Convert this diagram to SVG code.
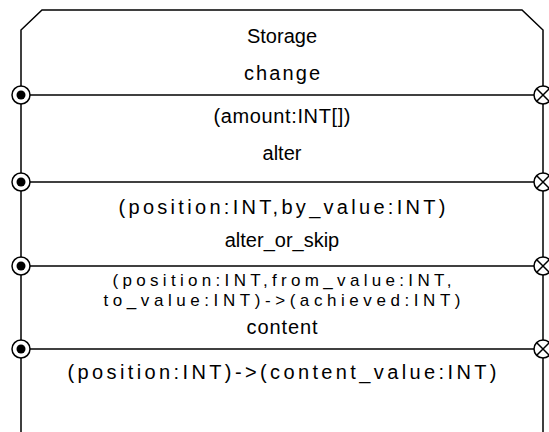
<svg xmlns="http://www.w3.org/2000/svg" width="549" height="432" viewBox="0 0 549 432">
<style>
.ln{stroke:#000;stroke-width:1.5;fill:none}
.t{font-family:"Liberation Sans",Arial,sans-serif;font-size:20px;fill:#000;text-anchor:middle}
.s{font-size:17px}
.pin{fill:#fff;stroke:#000;stroke-width:1.5}
</style>
<defs>
<g id="inp"><circle r="9" class="pin"/><circle r="4.5" fill="#000"/></g>
<g id="outp"><circle r="9" class="pin"/><path d="M-6,-6L6,6M-6,6L6,-6" class="ln" stroke-width="1.2"/></g>
</defs>
<g id="storage">
<path class="ln" d="M21,432V30L42,10H522L543,30V432"/>
<text class="t" x="282" y="43">Storage</text>
</g>
<g id="connectors">
<line class="ln" x1="21" y1="95" x2="543" y2="95"/>
<line class="ln" x1="21" y1="182" x2="543" y2="182"/>
<line class="ln" x1="21" y1="266" x2="543" y2="266"/>
<line class="ln" x1="21" y1="349" x2="543" y2="349"/>
</g>
<g id="change">
<text class="t" x="282" y="80" textLength="76" lengthAdjust="spacing">change</text>
<text class="t" x="282" y="123" textLength="137" lengthAdjust="spacing">(amount:INT[])</text>
<use href="#inp" x="21" y="95"/><use href="#outp" x="543" y="95"/>
</g>
<g id="alter">
<text class="t" x="282" y="160">alter</text>
<text class="t" x="282" y="214" textLength="327" lengthAdjust="spacing">(position:INT,by_value:INT)</text>
<use href="#inp" x="21" y="182"/><use href="#outp" x="543" y="182"/>
</g>
<g id="alter_or_skip">
<text class="t" x="282" y="247">alter_or_skip</text>
<text class="t s" x="282" y="286" textLength="339" lengthAdjust="spacing">(position:INT,from_value:INT,</text>
<text class="t s" x="282" y="305.5" textLength="357" lengthAdjust="spacing">to_value:INT)-&gt;(achieved:INT)</text>
<use href="#inp" x="21" y="266"/><use href="#outp" x="543" y="266"/>
</g>
<g id="content">
<text class="t" x="282" y="334" textLength="71" lengthAdjust="spacing">content</text>
<text class="t" x="282" y="379" textLength="429" lengthAdjust="spacing">(position:INT)-&gt;(content_value:INT)</text>
<use href="#inp" x="21" y="349"/><use href="#outp" x="543" y="349"/>
</g>
</svg>
